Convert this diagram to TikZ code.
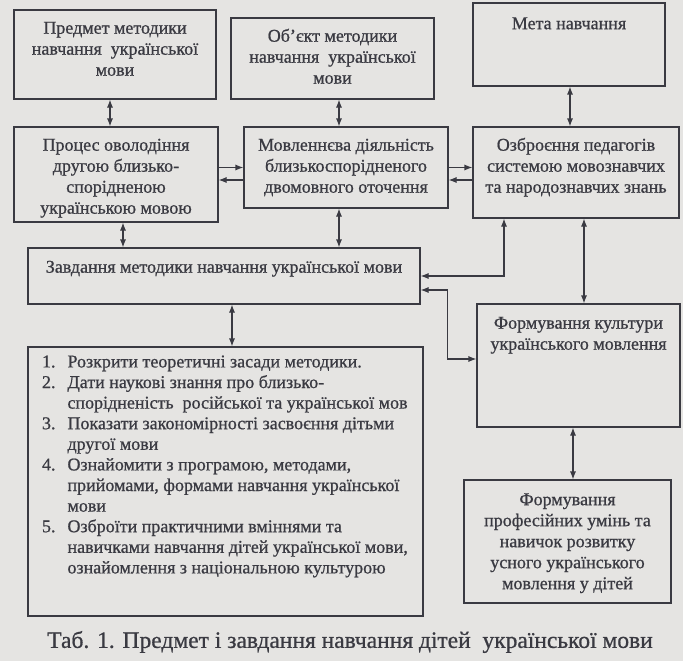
\documentclass[tikz,border=0pt]{standalone}
\usepackage{fontspec}
\setmainfont{Liberation Serif}[FakeBold=0.8]
\usepackage{tikz}
\usetikzlibrary{arrows.meta, positioning, calc}
\definecolor{tlo}{HTML}{E5E4E2}
\definecolor{chornyl}{HTML}{3A3A42}
% box with text set from the top
\newcommand{\vblok}[4][9pt]{\parbox[c][#3][t]{#2}{\centering\vspace*{#1}\strut#4\par}}

\begin{document}
\begin{tikzpicture}[
    x=1pt, y=-1pt,
    blok/.style={draw=chornyl, line width=1.1pt, inner sep=0pt, text=chornyl,
                 font=\fontsize{18}{21}\selectfont},
    obydvi/.style={{Latex[length=8pt,width=6pt]}-{Latex[length=8pt,width=6pt]}, line width=1.1pt, draw=chornyl},
    tuda/.style={-{Latex[length=8pt,width=6pt]}, line width=1.1pt, draw=chornyl}
  ]
    \fill[tlo] (0,0) rectangle (683,661);
    \useasboundingbox (0,0) rectangle (683,661);

    \node[blok] (predmet) at (115,54.5) {\vblok{202pt}{89pt}{Предмет методики\\навчання\ \ української\\мови}};
    \node[blok] (obiekt) at (332.5,58.5) {\vblok{203pt}{81pt}{Об’єкт методики\\навчання\ \ української\\мови}};
    \node[blok] (meta) at (569,44.5) {\vblok[11.5pt]{192pt}{83pt}{Мета навчання}};
    \node[blok] (proces) at (116,174.5) {\vblok{204pt}{95pt}{Процес оволодіння\\другою близько-\\спорідненою\\українською мовою}};
    \node[blok] (movl) at (346,167.5) {\vblok{204pt}{81pt}{Мовленнєва діяльність\\близькоспорідненого\\двомовного оточення}};
    \node[blok] (ozbr) at (576,172.5) {\vblok{206pt}{91pt}{Озброєння педагогів\\системою мовознавчих\\та народознавчих знань}};
    \node[blok] (zavd) at (224,276) {\vblok[10pt]{392pt}{56pt}{Завдання методики навчання української мови}};
    \node[blok] (kult) at (578.5,365.5) {\vblok[10pt]{203pt}{123pt}{Формування культури\\українського мовлення}};
    \node[blok] (prof) at (567.5,541.5) {\vblok[10.5pt]{207pt}{123pt}{Формування\\професійних умінь та\\навичок розвитку\\усного українського\\мовлення у дітей}};
    \node[blok] (spysok) at (225.5,481.5) {\parbox[c][269pt][t]{395pt}{\fontsize{18}{20.6}\selectfont\vspace*{6pt}\hspace*{14pt}%
      \begin{tabular}[t]{@{}l@{\hspace{12pt}}l@{}}
        1. & Розкрити теоретичні засади методики.\\
        2. & Дати наукові знання про близько-\\
           & спорідненість\ \ російської та української мов\\
        3. & Показати закономірності засвоєння дітьми\\
           & другої мови\\
        4. & Ознайомити з програмою, методами,\\
           & прийомами, формами навчання української\\
           & мови\\
        5. & Озброїти практичними вміннями та\\
           & навичками навчання дітей української мови,\\
           & ознайомлення з національною культурою
      \end{tabular}}};
    \node[text=chornyl, font=\fontsize{23.5}{27}\selectfont] (pidpys) at (350,642) {Таб. 1. Предмет і завдання навчання дітей\ \ української мови};

    % verhni strilky
    \draw[obydvi] ($(predmet.south)+(-5,0)$) -- ($(predmet.south |- proces.north)+(-5,0)$);
    \draw[obydvi] ($(obiekt.south)+(6.5,0)$) -- ($(obiekt.south |- movl.north)+(6.5,0)$);
    \draw[obydvi] ($(meta.south)+(1,0)$) -- ($(meta.south |- ozbr.north)+(1,0)$);
    % mizh blokamy
    \draw[tuda] (proces.east |- movl.west) -- (movl.west);
    \draw[tuda] ($(movl.west)+(0,12.5)$) -- ($(proces.east |- movl.west)+(0,12.5)$);
    \draw[tuda] (movl.east) -- (movl.east -| ozbr.west);
    \draw[tuda] ($(movl.east -| ozbr.west)+(0,12.5)$) -- ($(movl.east)+(0,12.5)$);
    % do zavdan
    \draw[obydvi] ($(proces.south)+(7,0)$) -- ($(proces.south |- zavd.north)+(7,0)$);
    \draw[obydvi] ($(movl.south)+(-7,0)$) -- ($(movl.south |- zavd.north)+(-7,0)$);
    \draw[obydvi] ($(ozbr.south)+(-72,0)$) |- (zavd.east);
    \draw[obydvi] ($(zavd.east)+(0,14)$) -- ++(27,0) |- ($(kult.west)+(0,-6.5)$);
    \draw[obydvi] ($(zavd.south)+(8,0)$) -- ($(zavd.south |- spysok.north)+(8,0)$);
    % pravyi stovpets
    \draw[obydvi] ($(ozbr.south)+(8,0)$) -- ($(ozbr.south |- kult.north)+(8,0)$);
    \draw[obydvi] ($(kult.south)+(-5.5,0)$) -- ($(kult.south |- prof.north)+(-5.5,0)$);
\end{tikzpicture}
\end{document}
